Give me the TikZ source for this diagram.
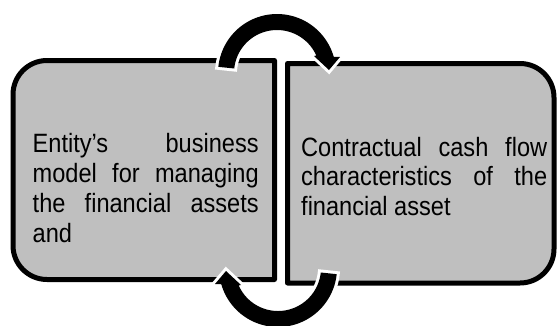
\documentclass[tikz,border=0pt]{standalone}
\usepackage{fontspec}
\newfontfamily\boxfont{Liberation Sans}[FakeStretch=0.89]
\definecolor{boxgray}{RGB}{191,191,191}
\tikzset{
  boxsty/.style={draw=black, line width=5pt, fill=boxgray, line join=round},
  arrowsty/.style={fill=black, preaction={draw=white, line width=6pt}},
  txt/.style={anchor=base west, inner sep=0pt, font=\boxfont\fontsize{26.5}{30}\selectfont},
}
\begin{document}
\begin{tikzpicture}[x=1pt,y=-1pt]
\useasboundingbox (0,0) rectangle (559,325);
% left box
\draw[boxsty] (274.5,60.5) -- (47,60.5) .. controls (28.2,60.5) and (13,75.7) .. (13,94.5)
  -- (13,245.5) .. controls (13,264.3) and (28.2,279.5) .. (47,279.5) -- (274.5,279.5) -- cycle;
% right box
\draw[boxsty] (287.5,63.5) -- (520,63.5) .. controls (538.8,63.5) and (554,78.7) .. (554,97.5)
  -- (554,249) .. controls (554,267.8) and (538.8,283) .. (520,283) -- (287.5,283) -- cycle;
% texts
\node[txt] (l1) at (32.5,152.7) {\makebox[226pt][s]{Entity’s business}};
\node[txt] (l2) at (32.5,182.7) {\makebox[226pt][s]{model for managing}};
\node[txt] (l3) at (32.5,212.7) {\makebox[226pt][s]{the financial assets}};
\node[txt] (l4) at (32.5,242.7) {and};
\node[txt] (r1) at (301,156) {\makebox[246pt][s]{Contractual cash flow}};
\node[txt] (r2) at (301,185.5) {\makebox[246pt][s]{characteristics of the}};
\node[txt] (r3) at (301,215) {financial asset};
% top circular arrow
\path[arrowsty] plot[domain=186:344, samples=60] ({277+59*cos(\x)},{73+59*sin(\x)})
  -- (340,57) -- (329,70) -- (314,56)
  -- plot[domain=336:186, samples=60] ({277+43*cos(\x)},{73+43*sin(\x)}) -- cycle;
% bottom circular arrow (point reflection of the top one)
\begin{scope}[rotate around={180:(277.5,170.5)}]
\path[arrowsty] plot[domain=186:344, samples=60] ({277+59*cos(\x)},{73+59*sin(\x)})
  -- (340,57) -- (329,70) -- (314,56)
  -- plot[domain=336:186, samples=60] ({277+43*cos(\x)},{73+43*sin(\x)}) -- cycle;
\end{scope}
\end{tikzpicture}
\end{document}
